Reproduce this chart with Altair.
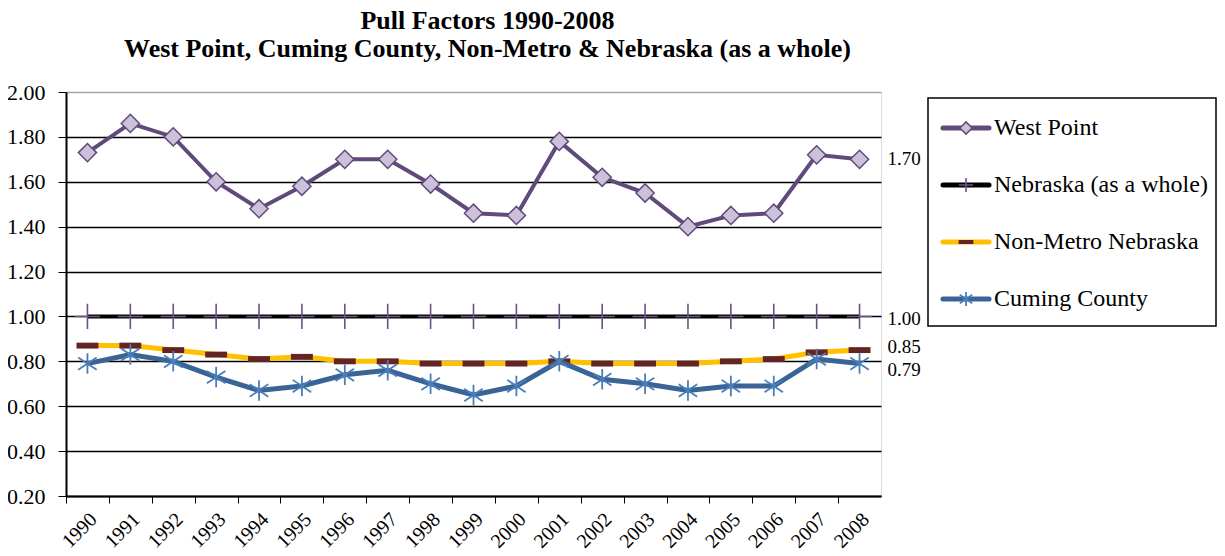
import altair as alt
import pandas as pd

years = ["1990", "1991", "1992", "1993", "1994", "1995", "1996", "1997", "1998", "1999",
         "2000", "2001", "2002", "2003", "2004", "2005", "2006", "2007", "2008"]
west_point = [1.73, 1.86, 1.80, 1.60, 1.48, 1.58, 1.70, 1.70, 1.59, 1.46,
              1.45, 1.78, 1.62, 1.55, 1.40, 1.45, 1.46, 1.72, 1.70]
nebraska = [1.00, 1.00, 1.00, 1.00, 1.00, 1.00, 1.00, 1.00, 1.00, 1.00,
            1.00, 1.00, 1.00, 1.00, 1.00, 1.00, 1.00, 1.00, 1.00]
non_metro = [0.87, 0.87, 0.85, 0.83, 0.81, 0.82, 0.80, 0.80, 0.79, 0.79,
             0.79, 0.80, 0.79, 0.79, 0.79, 0.80, 0.81, 0.84, 0.85]
cuming = [0.79, 0.83, 0.80, 0.73, 0.67, 0.69, 0.74, 0.76, 0.70, 0.65,
          0.69, 0.80, 0.72, 0.70, 0.67, 0.69, 0.69, 0.81, 0.79]
y_ticks = [0.2, 0.4, 0.6, 0.8, 1.0, 1.2, 1.4, 1.6, 1.8, 2.0]
series_names = ["West Point", "Nebraska (as a whole)", "Non-Metro Nebraska", "Cuming County"]
title_lines = ["Pull Factors 1990-2008",
               "West Point, Cuming County, Non-Metro & Nebraska (as a whole)"]

rows = []
for name, vals in zip(series_names, [west_point, nebraska, non_metro, cuming]):
    for yr, v in zip(years, vals):
        rows.append({"year": yr, "series": name, "value": v})
df = pd.DataFrame(rows)
legend_df = pd.DataFrame({"series": series_names})
box_df = pd.DataFrame({"box": [1]})

FONT = "Liberation Serif"
W, H = 815, 404
step = W / len(years)

PLUS = "M0,-1L0,1M-1,0L1,0"
STAR = "M0,-1L0,1M-0.9,-0.6L0.9,0.6M-0.9,0.6L0.9,-0.6"
DASH = "M-1,-0.27L1,-0.27L1,0.27L-1,0.27Z"

style = {
    "West Point": dict(line="#604a7b", lw=4,
                       marker=dict(shape="diamond", filled=True, fill="#ccc1da", stroke="#604a7b",
                                   strokeWidth=1.5, opacity=1),
                       size=330, lsize=150, dy=0),
    "Nebraska (as a whole)": dict(line="#000000", lw=4,
                                  marker=dict(shape=PLUS, filled=False, stroke="#6a5484",
                                              strokeWidth=1.6, opacity=1),
                                  size=640, lsize=200, dy=3),
    "Non-Metro Nebraska": dict(line="#ffc000", lw=5,
                               marker=dict(shape=DASH, filled=True, fill="#632523",
                                           strokeWidth=0, opacity=1),
                               size=480, lsize=220, dy=-3),
    "Cuming County": dict(line="#3b6496", lw=5,
                          marker=dict(shape=STAR, filled=False, stroke="#4a7ebb",
                                      strokeWidth=1.8, opacity=1),
                          size=420, lsize=190, dy=6),
}

x_enc = alt.X("year:O", sort=years,
              scale=alt.Scale(type="point", domain=years, padding=0.5),
              axis=alt.Axis(title=None, labelAngle=-45, labelAlign="right", labelBaseline="middle",
                            tickOffset=-step / 2, labelOffset=step / 2 + 6, labelPadding=13,
                            tickSize=7, tickColor="black", domainColor="black", domainWidth=2,
                            labelFont=FONT, labelFontSize=20, labelColor="black", grid=False))
y_enc = alt.Y("value:Q", scale=alt.Scale(domain=[0.2, 2.0], nice=False, zero=False),
              axis=alt.Axis(title=None, values=y_ticks, format=".2f", tickSize=8, tickColor="black",
                            domainColor="black", domainWidth=2, labelFont=FONT, labelFontSize=22,
                            labelColor="black", labelPadding=13, grid=True,
                            gridColor=alt.condition("datum.value >= 1.99", alt.value("#a6a6a6"),
                                                    alt.value("black")),
                            gridWidth=1.3, gridOpacity=1))

order = ["Nebraska (as a whole)", "Non-Metro Nebraska", "Cuming County", "West Point"]
main_layers = []
for name in order:
    s = style[name]
    base = alt.Chart(df).transform_filter(alt.datum.series == name).encode(x=x_enc, y=y_enc)
    main_layers.append(base.mark_line(color=s["line"], strokeWidth=s["lw"]))
    main_layers.append(base.mark_point(size=s["size"], **s["marker"]))
for name in order:
    s = style[name]
    lab = (alt.Chart(df)
           .transform_filter((alt.datum.series == name) & (alt.datum.year == years[-1]))
           .mark_text(align="left", baseline="middle", dx=28, dy=s["dy"], font=FONT, fontSize=19,
                      color="black")
           .encode(x=x_enc, y=y_enc, text=alt.Text("value:Q", format=".2f")))
    main_layers.append(lab)
main = alt.layer(*main_layers)

leg_y = alt.Y("series:N", sort=series_names,
              scale=alt.Scale(type="point", domain=series_names, range=[36, 207], padding=0),
              axis=None)
leg_layers = [
    alt.Chart(box_df).mark_rect(fill="white", stroke="black", strokeWidth=1.5)
    .encode(x=alt.value(862), x2=alt.value(1150), y=alt.value(6), y2=alt.value(234)),
]
for name in series_names:
    s = style[name]
    b = alt.Chart(legend_df).transform_filter(alt.datum.series == name).encode(y=leg_y)
    leg_layers.append(b.mark_rule(color=s["line"], strokeWidth=5, strokeCap="round")
                      .encode(x=alt.value(877), x2=alt.value(923)))
    leg_layers.append(b.mark_point(size=s["lsize"], **s["marker"]).encode(x=alt.value(900)))
    leg_layers.append(b.mark_text(align="left", baseline="middle", font=FONT, fontSize=24,
                                  color="black")
                      .encode(x=alt.value(928), text="series:N"))
legend = alt.layer(*leg_layers)

chart = (alt.layer(main, legend)
         .resolve_scale(y="independent")
         .properties(width=W, height=H,
                     autosize=alt.AutoSizeParams(type="none"),
                     padding={"left": 58, "top": 84, "right": 336, "bottom": 58},
                     title=alt.TitleParams(text=title_lines, font=FONT, fontSize=26,
                                           fontWeight="bold", color="black", anchor="middle",
                                           frame="group", dx=14, offset=19, lineHeight=28))
         .configure_view(stroke="#a6a6a6", strokeWidth=1.2)
         .configure(background="white"))

chart.save("out.html", embed_options={"renderer": "svg", "actions": False})
